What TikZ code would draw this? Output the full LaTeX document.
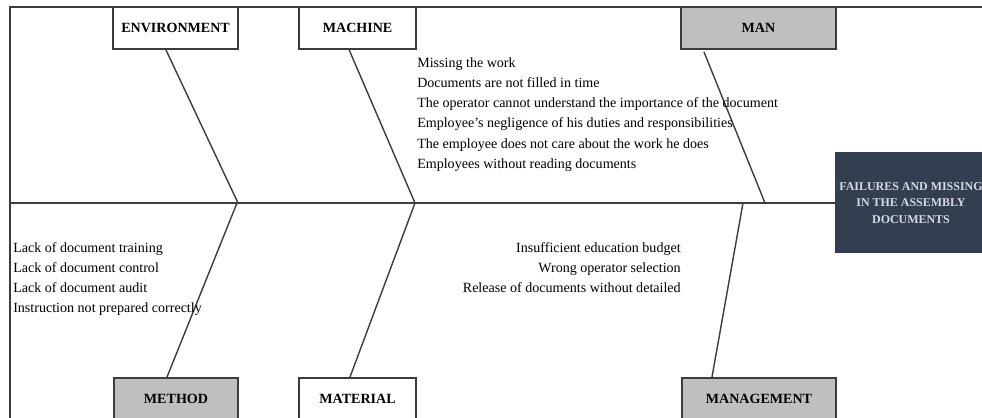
\documentclass[tikz,border=0pt]{standalone}
\usepackage{fontspec}
\setmainfont{Liberation Serif}
\usepackage{xcolor}
\usetikzlibrary{calc, math}
\definecolor{mydark}{RGB}{51, 63, 80}
\definecolor{mygray}{RGB}{191, 191, 191}
\definecolor{myline}{RGB}{60, 60, 60}
\definecolor{mylight}{RGB}{214, 218, 224}

\begin{document}
\begin{tikzpicture}[
catbox/.style={draw=myline, line width=1.4pt, minimum height=1.05cm, inner sep=0, font=\bfseries\fontsize{10}{12}\selectfont},
causes/.style={inner sep=0, font=\fontsize{10}{14.4}\selectfont},
bone/.style={line width=1pt, color=myline}
]
\tikzmath{
\W=24.55;
\H=10.45;
\yS=5.375;
\yT=9.75;
\yB=0.475;
}
\useasboundingbox (0,0) rectangle (\W,\H);
\draw[line width=1pt, color=myline] (0.25,-1) -- (0.25,10.275) -- (\W+1,10.275);

\coordinate (L) at (0.25,\yS);
\node[fill=mydark, minimum width=3.8cm, minimum height=2.525cm, inner sep=0, align=center, text=mylight, font=\bfseries\fontsize{8.5}{12}\selectfont] (head) at (22.775,\yS) {FAILURES AND MISSING\\IN THE ASSEMBLY\\DOCUMENTS};
\draw[bone] (L) -- (head.west);

\node[catbox, fill=white, minimum width=3.125cm] (env) at (4.39,\yT) {ENVIRONMENT};
\node[catbox, fill=white, minimum width=2.925cm] (mach) at (8.94,\yT) {MACHINE};
\node[catbox, fill=mygray, minimum width=3.875cm] (man) at (18.96,\yT) {MAN};
\node[catbox, fill=mygray, minimum width=3.1cm] (meth) at (4.4,\yB) {METHOD};
\node[catbox, fill=white, minimum width=2.925cm] (mat) at (8.94,\yB) {MATERIAL};
\node[catbox, fill=mygray, minimum width=3.85cm] (mgmt) at (18.975,\yB) {MANAGEMENT};

\coordinate (S1) at (5.95,\yS);
\coordinate (S2) at (10.375,\yS);
\coordinate (S3) at (19.125,\yS);
\coordinate (S4) at (5.925,\yS);
\coordinate (S5) at (10.375,\yS);
\coordinate (S6) at (18.575,\yS);

\draw[bone] ($(env.south)+(-0.24,0)$) -- (S1);
\draw[bone] ($(mach.south)+(-0.21,0)$) -- (S2);
\draw[bone] ($(man.south)+(-1.36,-0.05)$) -- (S3);
\draw[bone] ($(meth.north)+(-0.225,0)$) -- (S4);
\draw[bone] ($(mat.north)+(-0.19,0)$) -- (S5);
\draw[bone] ($(mgmt.north)+(-1.175,0)$) -- (S6);

\node[causes, anchor=west, align=left] (mancauses) at (10.425,7.59) {Missing the work\\Documents are not filled in time\\The operator cannot understand the importance of the document\\Employee's negligence of his duties and responsibilities\\The employee does not care about the work he does\\Employees without reading documents};
\node[causes, anchor=west, align=left] (methcauses) at (0.325,3.47) {Lack of document training\\Lack of document control\\Lack of document audit\\Instruction not prepared correctly};
\node[causes, anchor=east, align=right] (mgmtcauses) at (17.025,3.765) {Insufficient education budget\\Wrong operator selection\\Release of documents without detailed};
\end{tikzpicture}
\end{document}
